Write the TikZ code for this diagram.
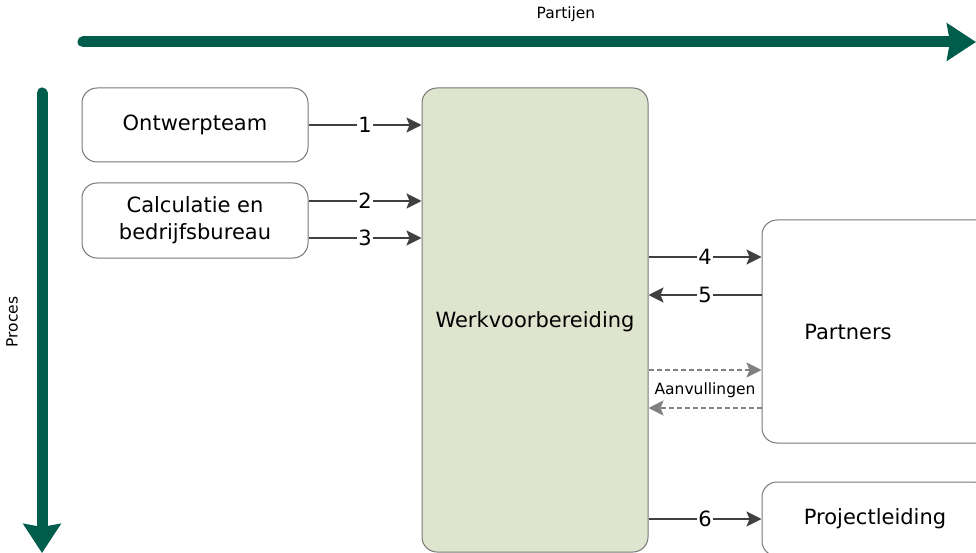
\documentclass[tikz,border=0pt]{standalone}
\usepackage{fontspec}
\setmainfont{DejaVu Sans}
\usetikzlibrary{arrows.meta}
\definecolor{dkgreen}{RGB}{0,92,75}
\definecolor{wvfill}{RGB}{223,228,206}
\definecolor{bordergray}{RGB}{120,120,120}
\definecolor{arrgray}{RGB}{64,64,64}
\definecolor{dashgray}{RGB}{128,128,128}
\begin{document}
\begin{tikzpicture}[x=1pt,y=-1pt,
  box/.style={draw=bordergray, line width=1pt, rounded corners=15pt, fill=white,
    minimum width=226pt, inner sep=0pt, align=center,
    font=\fontsize{21}{27}\selectfont},
  bigfont/.style={font=\fontsize{21}{27}\selectfont},
  smallfont/.style={font=\fontsize{15.5}{18}\selectfont},
  conn/.style={draw=arrgray, line width=2pt, -{Stealth[length=15pt,width=15pt,inset=3pt]}},
  dconn/.style={draw=dashgray, line width=2pt, dash pattern=on 5pt off 3pt,
    -{Stealth[length=15pt,width=15pt,inset=3pt]}},
  num/.style={fill=white, inner sep=1pt, font=\fontsize{21}{25}\selectfont},
  greenarrow/.style={draw=dkgreen, line width=11pt, line cap=round,
    -{Stealth[length=29pt,width=37pt,inset=3pt]}}
]
\clip (0,0) rectangle (976,553);
\fill[white] (0,0) rectangle (976,553);

% axis arrows
\coordinate (hs) at (83,42);
\coordinate (he) at (976,42);
\coordinate (vs) at (42,93);
\coordinate (ve) at (42,553);
\draw[greenarrow] (hs) -- (he);
\draw[greenarrow] (vs) -- (ve);
\node[smallfont] (partijen) at (566,14) {Partijen};
\node[smallfont, rotate=90] (proces) at (12,322) {Proces};

% boxes
\node[box, minimum height=74pt] (ont) at (195,125) {Ontwerpteam};
\node[box, minimum height=75pt] (calc) at (195,220.5) {Calculatie en\\bedrijfsbureau};
\node[box, fill=wvfill, minimum height=464pt] (wv) at (535,320) {};
\node[bigfont] (wvtext) at (535,322) {Werkvoorbereiding};
\node[box, minimum height=223pt, minimum width=240pt] (part) at (882,331.5) {};
\node[bigfont] (parttext) at (848,332) {Partners};
\node[box, minimum height=74pt] (proj) at (875,519) {Projectleiding};

% connectors
\coordinate (y1) at (0,125);
\coordinate (y2) at (0,201);
\coordinate (y3) at (0,238);
\coordinate (y4) at (0,257);
\coordinate (y5) at (0,295);
\coordinate (y6) at (0,370);
\coordinate (y7) at (0,408);
\coordinate (y8) at (0,519);

\draw[conn] (ont.east |- y1) -- node[num] {1} (wv.west |- y1);
\draw[conn] (calc.east |- y2) -- node[num] {2} (wv.west |- y2);
\draw[conn] (calc.east |- y3) -- node[num] {3} (wv.west |- y3);
\draw[conn] (wv.east |- y4) -- node[num] {4} (part.west |- y4);
\draw[conn] (part.west |- y5) -- node[num] {5} (wv.east |- y5);
\draw[dconn] (wv.east |- y6) -- (part.west |- y6);
\draw[dconn] (part.west |- y7) -- (wv.east |- y7);
\node[smallfont] (aanv) at (705,390) {Aanvullingen};
\draw[conn] (wv.east |- y8) -- node[num] {6} (proj.west |- y8);
\end{tikzpicture}
\end{document}
